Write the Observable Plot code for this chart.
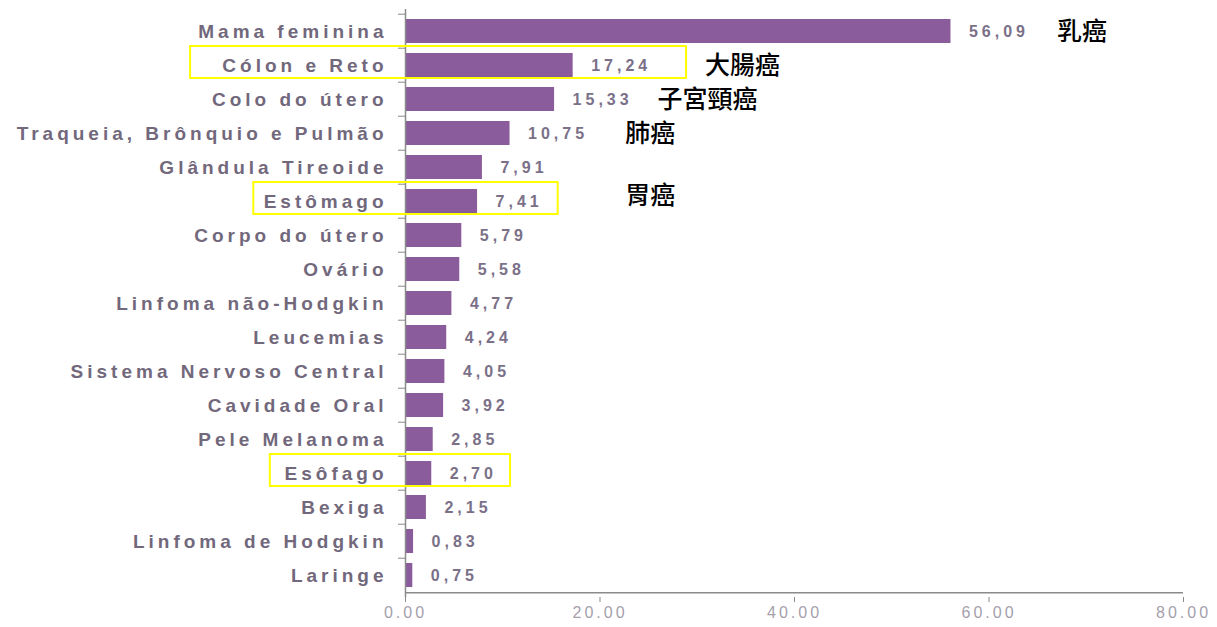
<!DOCTYPE html>
<html>
<head>
<meta charset="utf-8">
<script src="https://cdn.jsdelivr.net/npm/d3@7"></script>
<script src="https://cdn.jsdelivr.net/npm/@observablehq/plot@0.6"></script>
<style>
  html, body { margin: 0; padding: 0; background: #ffffff; }
  #chart { width: 1217px; height: 627px; }
</style>
</head>
<body>
<div id="chart"></div>
<script>
// ---- data ----
const categories = [
  "Mama feminina", "Cólon e Reto", "Colo do útero", "Traqueia, Brônquio e Pulmão",
  "Glândula Tireoide", "Estômago", "Corpo do útero", "Ovário", "Linfoma não-Hodgkin",
  "Leucemias", "Sistema Nervoso Central", "Cavidade Oral", "Pele Melanoma", "Esôfago",
  "Bexiga", "Linfoma de Hodgkin", "Laringe"
];
const values = [56.09, 17.24, 15.33, 10.75, 7.91, 7.41, 5.79, 5.58, 4.77, 4.24, 4.05, 3.92, 2.85, 2.70, 2.15, 0.83, 0.75];
const xTicks = [0, 20, 40, 60, 80];

// highlighted rows (yellow boxes), extents in x-data units
const boxCats = ["Cólon e Reto", "Estômago", "Esôfago"];
const boxX1 = [-22.1, -15.6, -13.9];
const boxX2 = [28.9, 15.7, 10.8];

// Chinese annotations (row-aligned)
const noteCats = ["Mama feminina", "Cólon e Reto", "Colo do útero", "Traqueia, Brônquio e Pulmão"];
const noteText = ["乳癌", "大腸癌", "子宮頸癌", "肺癌"];
const noteX = [67.0, 30.8, 25.9, 22.6];
// annotation set slightly above its row
const noteCatsHigh = ["Estômago"];
const noteTextHigh = ["胃癌"];
const noteXHigh = [22.6];

// ---- build tables ----
const rows = categories.map((c, i) => ({cat: c, value: values[i]}));
const boxes = boxCats.map((c, i) => ({cat: c, x1: boxX1[i], x2: boxX2[i]}));
const notes = noteCats.map((c, i) => ({cat: c, text: noteText[i], x: noteX[i]}));
const notesHigh = noteCatsHigh.map((c, i) => ({cat: c, text: noteTextHigh[i], x: noteXHigh[i]}));

const W = 1217, H = 627, mt = 9, mb = 30, ml = 405, mr = 34;
const step = (H - mt - mb) / categories.length;

const fmtComma = d => d.toFixed(2).replace(".", ",");
const cjk = {textAnchor: "start", fontSize: 25, fontWeight: 500, fill: "#000000",
             fontFamily: "'Noto Sans CJK TC', sans-serif"};

const plot = Plot.plot({
  width: W,
  height: H,
  marginLeft: ml,
  marginRight: mr,
  marginTop: mt,
  marginBottom: mb,
  style: {fontFamily: "'Liberation Sans', Arial, sans-serif", background: "#ffffff", overflow: "visible"},
  x: {domain: [0, 80], axis: null},
  y: {domain: categories, paddingInner: 0.3, paddingOuter: 0.15, axis: null},
  marks: [
    Plot.barX(rows, {x: "value", y: "cat", fill: "#8a5c9b"}),
    // y axis line
    Plot.ruleX([0], {stroke: "#8a8a8a", strokeWidth: 1.5}),
    // x axis line
    Plot.ruleY([categories[categories.length - 1]], {dy: step / 2, stroke: "#8a8a8a", strokeWidth: 1.5}),
    // y ticks at band boundaries
    Plot.axisY({tickSize: 7, tickFormat: () => "", dy: -step / 2, stroke: "#8a8a8a", label: null}),
    // category labels
    Plot.axisY({tickSize: 0, tickPadding: 18, fontSize: 19, fontWeight: "bold", fill: "#72687c", label: null}),
    // x axis
    Plot.axisX({ticks: xTicks, tickFormat: d3.format(".2f"), tickSize: 5, tickPadding: 4,
                fontSize: 16, stroke: "#8a8a8a", fill: "#a59fac", label: null}),
    // value labels
    Plot.text(rows, {x: "value", y: "cat", text: d => fmtComma(d.value), textAnchor: "start",
                     dx: 18, fontSize: 16, fontWeight: "bold", fill: "#7a7088"}),
    // chinese notes
    Plot.text(notes, {x: "x", y: "cat", text: "text", ...cjk}),
    Plot.text(notesHigh, {x: "x", y: "cat", text: "text", dy: -6, ...cjk}),
    // yellow boxes
    Plot.barX(boxes, {x1: "x1", x2: "x2", y: "cat", fill: "none", stroke: "#ffff00", strokeWidth: 2,
                      insetTop: -7, insetBottom: -1})
  ]
});

document.getElementById("chart").appendChild(plot);

// letter spacing for latin text, none for CJK
d3.select(plot).selectAll("text").each(function () {
  const t = this.textContent;
  if (/[\u4e00-\u9fff]/.test(t)) this.style.letterSpacing = "0px";
  else if (/^\d+\.\d\d$/.test(t)) this.style.letterSpacing = "3px";
  else this.style.letterSpacing = "4px";
});
</script>
</body>
</html>
